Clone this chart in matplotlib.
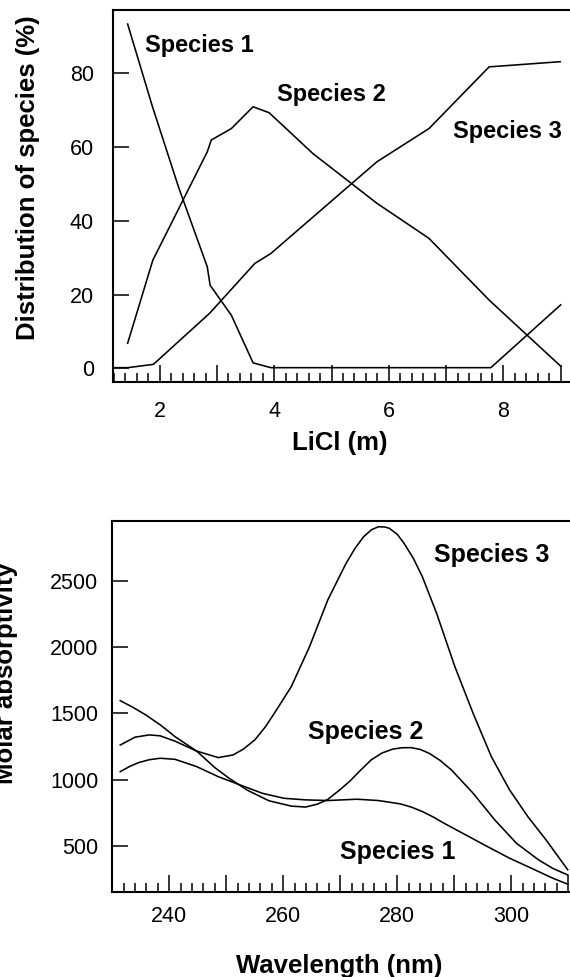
import numpy as np
import matplotlib
matplotlib.use('Agg')
import matplotlib.pyplot as plt
from matplotlib.ticker import MultipleLocator, FixedLocator

plt.rcParams['font.family'] = ['Liberation Sans', 'DejaVu Sans']

# --- top panel: distribution of species vs LiCl
licl_1 = [1.44, 1.87, 2.33, 2.83, 2.88, 3.25, 3.63, 3.94, 7.78, 9.0]
dist_1 = [93.2, 71.0, 49.0, 27.5, 22.5, 14.4, 1.5, 0.2, 0.2, 17.2]
licl_2 = [1.44, 1.88, 2.83, 2.90, 3.25, 3.63, 3.91, 4.67, 5.79, 6.70, 7.75, 9.0]
dist_2 = [6.8, 29.3, 58.6, 61.8, 64.9, 70.8, 69.2, 58.2, 44.7, 35.2, 18.5, 0.6]
licl_3 = [1.21, 1.44, 1.89, 2.87, 3.66, 3.94, 5.79, 6.70, 7.75, 8.99]
dist_3 = [0.2, 0.2, 1.1, 14.9, 28.4, 31.1, 55.9, 64.9, 81.6, 83.0]

# --- bottom panel: molar absorptivity spectra
wl_1 = [231.4, 233.0, 234.6, 236.5, 238.4, 241.0, 244.8, 248.6, 252.4, 256.3,
        260.1, 263.9, 267.8, 272.9, 276.7, 280.5, 282.5, 284.4, 286.3, 288.2,
        292.0, 295.8, 299.7, 303.5, 307.3, 309.9]
eps_1 = [1060, 1098, 1128, 1150, 1161, 1153, 1098, 1022, 960, 897,
         859, 847, 842, 852, 842, 817, 792, 759, 718, 671,
         583, 495, 407, 332, 256, 211]
wl_2 = [231.4, 233.5, 235.9, 238.5, 241.0, 244.8, 248.0, 250.5, 253.7, 257.5,
        261.4, 263.9, 266.0, 267.8, 269.7, 271.6, 273.5, 275.4, 277.3, 279.2,
        280.8, 282.4, 284.0, 285.6, 287.5, 289.5, 293.3, 297.1, 300.9, 304.8,
        307.3, 309.9]
eps_2 = [1595, 1548, 1487, 1410, 1324, 1215, 1090, 1010, 920, 840,
         800, 793, 815, 850, 915, 985, 1068, 1148, 1200, 1230,
         1240, 1241, 1228, 1198, 1145, 1073, 897, 696, 520, 394,
         330, 281]
wl_3 = [231.4, 234.0, 236.5, 238.4, 241.0, 244.8, 248.6, 251.2, 253.0, 255.0,
        256.9, 258.8, 261.4, 264.6, 267.8, 271.0, 272.6, 274.1, 275.5, 276.7,
        277.8, 278.6, 280.0, 281.2, 282.8, 284.4, 286.9, 290.1, 293.3, 296.5,
        299.7, 302.9, 306.1, 309.9]
eps_3 = [1261, 1320, 1337, 1330, 1290, 1215, 1166, 1186, 1230, 1299,
         1400, 1525, 1701, 2002, 2354, 2630, 2745, 2832, 2885, 2907,
         2905, 2895, 2850, 2781, 2670, 2530, 2254, 1852, 1500, 1173,
         922, 721, 545, 320]

top_labels = ['Species 1', 'Species 2', 'Species 3']
top_label_pos = [(1.75, 87.5), (4.05, 74.0), (7.12, 64.0)]
bot_labels = ['Species 3', 'Species 2', 'Species 1']
bot_label_pos = [(286.5, 2694), (264.4, 1362), (270.0, 457)]

fig = plt.figure(figsize=(5.70, 9.77), dpi=100)

lw = 1.15
tick_fs = 15.5
lab_fs = 18.5

def style(ax):
    for s in ax.spines.values():
        s.set_linewidth(1.5)
    ax.spines['right'].set_visible(False)
    ax.tick_params(which='both', direction='in', width=1.1, top=False, right=False)
    ax.tick_params(which='major', length=11.5, labelsize=tick_fs)
    ax.tick_params(which='minor', length=6.5)

# top
ax1 = fig.add_axes([0.1988, 0.6093, 0.8050, 0.3805])
ax1.plot(licl_1, dist_1, color='black', lw=lw)
ax1.plot(licl_2, dist_2, color='black', lw=lw)
ax1.plot(licl_3, dist_3, color='black', lw=lw)
ax1.set_xlim(1.19, 9.20)
ax1.set_ylim(-3.6, 97)
ax1.xaxis.set_major_locator(MultipleLocator(1))
ax1.xaxis.set_major_formatter(plt.FuncFormatter(lambda v, p: '%d' % v if int(round(v)) % 2 == 0 else ''))
ax1.xaxis.set_minor_locator(MultipleLocator(0.2))
ax1.yaxis.set_major_locator(FixedLocator([0, 20, 40, 60, 80]))
style(ax1)
ax1.tick_params(axis='x', which='major', length=12, pad=14)
ax1.tick_params(axis='y', which='major', pad=14)
for t, (x, y) in zip(top_labels, top_label_pos):
    ax1.text(x, y, t, fontsize=17, fontweight='bold', ha='left', va='center')
ax1.set_xlabel('LiCl (m)', fontsize=lab_fs, fontweight='bold')
ax1.xaxis.set_label_coords(0.494, -0.133)
ax1.set_ylabel('Distribution of species (%)', fontsize=lab_fs, fontweight='bold')
ax1.yaxis.set_label_coords(-0.16, 0.55)

# bottom
ax2 = fig.add_axes([0.1970, 0.0867, 0.8050, 0.3800])
ax2.plot(wl_1, eps_1, color='black', lw=lw)
ax2.plot(wl_2, eps_2, color='black', lw=lw)
ax2.plot(wl_3, eps_3, color='black', lw=lw)
ax2.set_xlim(230, 310.5)
ax2.set_ylim(150, 2950)
ax2.xaxis.set_major_locator(MultipleLocator(10))
ax2.xaxis.set_major_formatter(plt.FuncFormatter(lambda v, p: '%d' % v if int(round(v)) % 20 == 0 else ''))
ax2.xaxis.set_minor_locator(MultipleLocator(2))
ax2.yaxis.set_major_locator(FixedLocator([500, 1000, 1500, 2000, 2500]))
style(ax2)
ax2.tick_params(axis='x', which='major', length=12, pad=10)
ax2.tick_params(axis='y', which='major', pad=10)
for t, (x, y) in zip(bot_labels, bot_label_pos):
    ax2.text(x, y, t, fontsize=18, fontweight='bold', ha='left', va='center')
ax2.set_xlabel('Wavelength (nm)', fontsize=lab_fs, fontweight='bold')
ax2.xaxis.set_label_coords(0.494, -0.165)
ax2.set_ylabel('Molar absorptivity', fontsize=lab_fs, fontweight='bold')
ax2.yaxis.set_label_coords(-0.205, 0.59)

fig.savefig('out.png', dpi=100)
